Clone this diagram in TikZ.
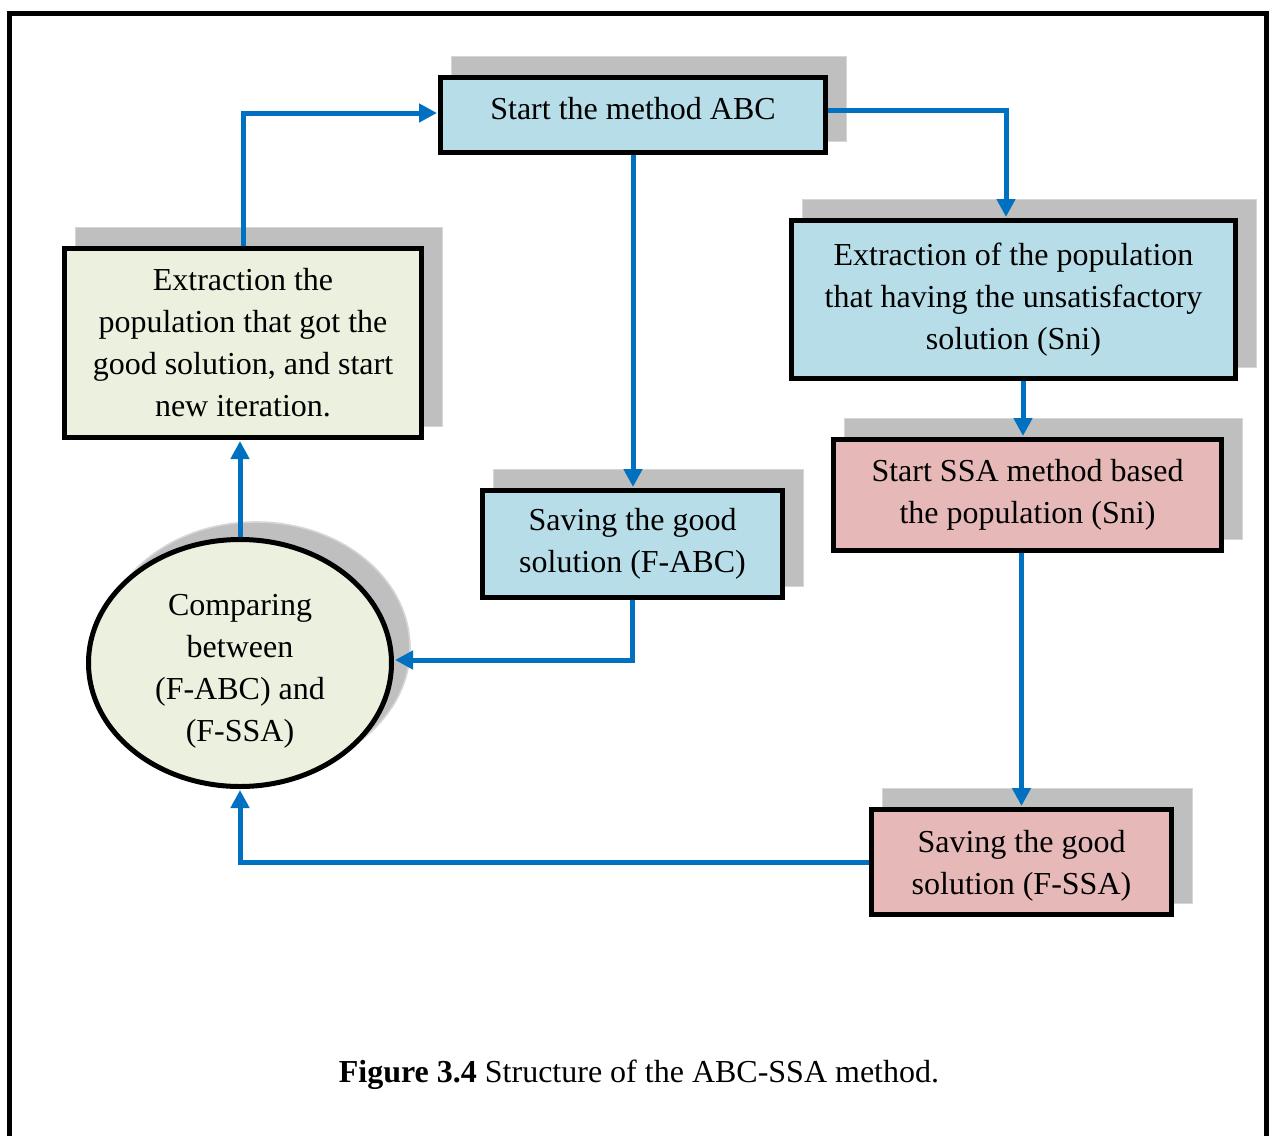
\documentclass[tikz,border=0pt]{standalone}
\usepackage{fontspec}
\setmainfont{Liberation Serif}
\usetikzlibrary{arrows.meta,shapes.geometric,backgrounds}
\definecolor{boxblue}{HTML}{B7DEE8}
\definecolor{boxgreen}{HTML}{EBF1DE}
\definecolor{boxpink}{HTML}{E6B9B8}
\definecolor{flowblue}{HTML}{0070C0}
\definecolor{shadowgray}{HTML}{BFBFBF}
\definecolor{shadowedge}{HTML}{D6D6D6}
\begin{document}
\begin{tikzpicture}[x=0.5pt,y=-0.5pt,
  font=\fontsize{16}{21}\selectfont,
  flowbox/.style={rectangle,draw=black,line width=2.5pt,align=center,inner sep=0pt},
  flow/.style={draw=flowblue,line width=2.5pt,-{Triangle[length=9pt,width=9pt]},shorten >=0.5pt},
  shade/.style={fill=shadowgray,draw=shadowedge,line width=0.8pt}]
\useasboundingbox (0,0) rectangle (1271,1136);

% page frame, open at the bottom
\draw[line width=2.5pt] (9.5,1136) -- (9.5,13.5) -- (1266.5,13.5) -- (1266.5,1136);

% process boxes
\node[flowbox,fill=boxblue,minimum width=192.5pt,minimum height=37.5pt,text depth=7pt] (abc) at (633,115)
  {Start the method ABC};
\node[flowbox,fill=boxgreen,minimum width=178.5pt,minimum height=94.5pt] (green) at (243,343)
  {Extraction the\\population that got the\\good solution, and start\\new iteration.};
\node[flowbox,fill=boxblue,minimum width=222pt,minimum height=79pt] (ext) at (1013.5,299.5)
  {Extraction of the population\\that having the unsatisfactory\\solution (Sni)};
\node[flowbox,fill=boxpink,minimum width=194pt,minimum height=55.5pt] (ssa) at (1027.5,495)
  {Start SSA method based\\the population (Sni)};
\node[flowbox,fill=boxblue,minimum width=150pt,minimum height=53.5pt] (fabc) at (632.5,544)
  {Saving the good\\solution (F-ABC)};
\node[flowbox,fill=boxpink,minimum width=150pt,minimum height=52.5pt] (fssa) at (1021.5,862)
  {};
\node[align=center,inner sep=0pt] (fssatext) at ([yshift=-2pt]fssa.center)
  {Saving the good\\solution (F-SSA)};
\node[ellipse,draw=black,line width=2.5pt,fill=boxgreen,inner sep=0pt,
      minimum width=151.5pt,minimum height=123.5pt] (cmp) at (240,663) {};
\node[align=center,inner sep=0pt] (cmptext) at ([yshift=-4pt]cmp.center)
  {Comparing\\between\\(F-ABC) and\\(F-SSA)};

% drop shadows behind the shapes
\begin{scope}[on background layer]
  \foreach \n in {abc,green,ext,ssa,fabc,fssa}
    \path[shade] ([shift={(6.75pt,6.75pt)}]\n.south west) rectangle ([shift={(9.25pt,9.25pt)}]\n.north east);
  \path[shade] ([shift={(8pt,7.5pt)}]cmp.center) ellipse [x radius=77pt,y radius=63pt];
\end{scope}

% connectors
\draw[flow] (green.north) |- ([yshift=1pt]abc.west);
\draw[flow] ([yshift=2.5pt]abc.east) -| ([xshift=-3.75pt]ext.north);
\draw[flow] (abc.south) -- (abc.south |- fabc.north);
\draw[flow] ([xshift=-2.25pt]ssa.north |- ext.south) -- ([xshift=-2.25pt]ssa.north);
\draw[flow] (fssa.north |- ssa.south) -- (fssa.north);
\draw[flow] (fssa.west) -| (cmp.south);
\draw[flow] (fabc.south) |- ([yshift=1.5pt]cmp.east);
\draw[flow] (cmp.north) -- (cmp.north |- green.south);

% caption
\node (cap) at (639,1075) {\textbf{Figure 3.4} Structure of the ABC-SSA method.};
\end{tikzpicture}
\end{document}
